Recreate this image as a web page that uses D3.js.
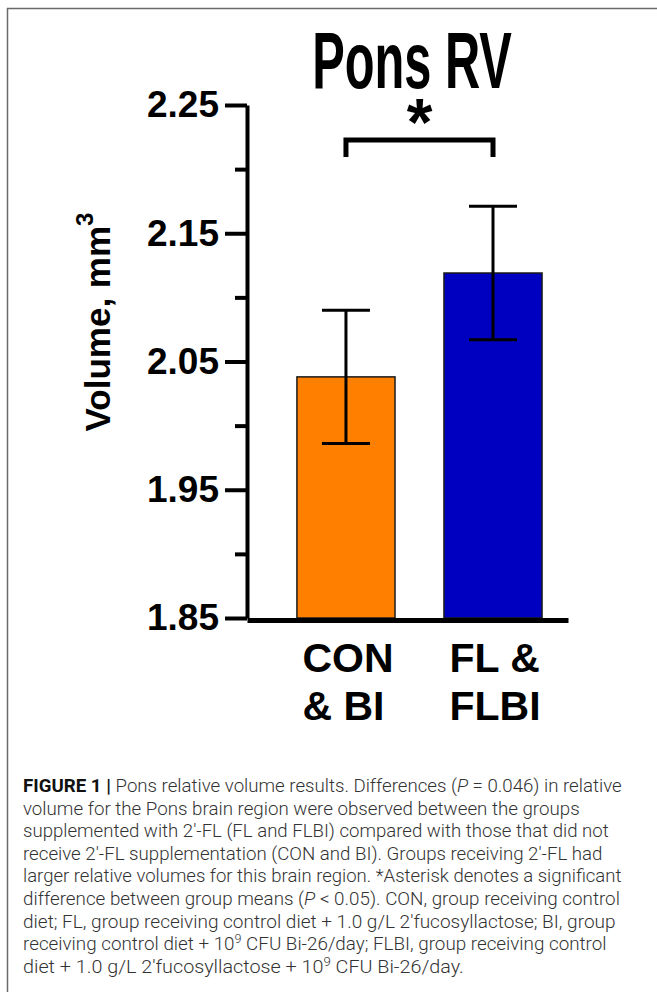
<!DOCTYPE html>
<html>
<head>
<meta charset="utf-8">
<script src="https://cdn.jsdelivr.net/npm/d3@7"></script>
<style>
  body { margin: 0; background: #fff; }
</style>
</head>
<body>
<div id="chart"></div>
<script>
// data
const categories = ["CON & BI", "FL & FLBI"]
const tickLines = [["CON", "& BI"], ["FL &", "FLBI"]]
const means = [2.038, 2.119]
const errors = [0.052, 0.052]
const barColors = ["#FF8000", "#0000C0"]
const majorTicks = [1.85, 1.95, 2.05, 2.15, 2.25]
const minorTicks = [1.90, 2.00, 2.10, 2.20]

// caption, one entry per printed line: [text, style]
const captionLines = [
    [["FIGURE 1 | ", "b"], ["Pons relative volume results. Differences (", ""], ["P", "i"], [" = 0.046) in relative", ""]],
    [["volume for the Pons brain region were observed between the groups", ""]],
    [["supplemented with 2\u2032-FL (FL and FLBI) compared with those that did not", ""]],
    [["receive 2\u2032-FL supplementation (CON and BI). Groups receiving 2\u2032-FL had", ""]],
    [["larger relative volumes for this brain region. *Asterisk denotes a significant", ""]],
    [["difference between group means (", ""], ["P", "i"], [" < 0.05). CON, group receiving control", ""]],
    [["diet; FL, group receiving control diet + 1.0 g/L 2\u2032fucosyllactose; BI, group", ""]],
    [["receiving control diet + 10", ""], ["9", "sup"], [" CFU Bi-26/day; FLBI, group receiving control", ""]],
    [["diet + 1.0 g/L 2\u2032fucosyllactose + 10", ""], ["9", "sup"], [" CFU Bi-26/day.", ""]]
]
const captionWidths = [599, 557, 586, 580, 599, 597, 593, 584, 441]

const W = 657, H = 992
const font = "'Liberation Sans', Arial, Helvetica, sans-serif"

const svg = d3.select("#chart")
    .append("svg")
    .attr("width", W)
    .attr("height", H)

// frame, only top and left edges show
svg.append("path")
    .attr("d", "M7.5," + H + " V8.5 H" + W)
    .attr("fill", "none")
    .attr("stroke", "#6a6a6a")
    .attr("stroke-width", 1.5)

// scales
let y = d3.scaleLinear()
    .domain([1.85, 2.25])
    .range([618, 105])

let x = d3.scaleBand()
    .domain(categories)
    .range([247, 568])
    .paddingInner(0.333)
    .paddingOuter(0.258)
    .align(0.658)

// title (condensed bold face in the original)
svg.append("text")
    .attr("transform", "translate(412,88) scale(0.61,1)")
    .attr("text-anchor", "middle")
    .attr("font-family", font)
    .attr("font-weight", "700")
    .attr("font-size", 80)
    .text("Pons RV")

// Y axis
let yAxis = d3.axisLeft(y)
    .tickValues(majorTicks)
    .tickSize(22)
    .tickSizeOuter(0)
    .tickPadding(6)
    .tickFormat(d3.format(".2f"))

const gy = svg.append("g")
    .attr("transform", "translate(" + x.range()[0] + ",0)")
    .call(yAxis)

const gyMinor = svg.append("g")
    .attr("transform", "translate(" + x.range()[0] + ",0)")
    .call(d3.axisLeft(y).tickValues(minorTicks).tickSize(12).tickSizeOuter(0).tickFormat(""))
gyMinor.select(".domain").remove()

svg.selectAll(".tick line")
    .attr("stroke", "#000")
    .attr("stroke-width", 4)
gy.select(".domain")
    .attr("stroke", "#000")
    .attr("stroke-width", 4)
gy.selectAll(".tick text")
    .attr("font-family", font)
    .attr("font-weight", "700")
    .attr("font-size", 37)
    .attr("fill", "#000")

// bars
svg.append("g")
    .selectAll("rect")
    .data(categories)
    .enter()
    .append("rect")
    .attr("x", d => x(d))
    .attr("width", x.bandwidth())
    .attr("y", (d, i) => y(means[i]))
    .attr("height", (d, i) => y(1.85) - y(means[i]))
    .attr("fill", (d, i) => barColors[i])
    .attr("stroke", "#1a1a1a")
    .attr("stroke-width", 1.5)

// error bars
const capW = 48
const eb = svg.append("g")
    .attr("stroke", "#000")
    .attr("stroke-width", 3)
    .attr("fill", "none")
categories.forEach((c, i) => {
    const cx = x(c) + x.bandwidth() / 2
    const hi = y(means[i] + errors[i])
    const lo = y(means[i] - errors[i])
    eb.append("path")
        .attr("d", "M" + cx + "," + hi + " V" + lo +
            " M" + (cx - capW / 2) + "," + hi + " H" + (cx + capW / 2) +
            " M" + (cx - capW / 2) + "," + lo + " H" + (cx + capW / 2))
})

// X axis
let xAxis = d3.axisBottom(x).tickSize(0).tickSizeOuter(0).tickFormat("")
const gx = svg.append("g")
    .attr("transform", "translate(0," + (y(1.85) + 2) + ")")
    .call(xAxis)
gx.select(".domain")
    .attr("stroke", "#000")
    .attr("stroke-width", 5)

// two-line category labels, left aligned under each bar
categories.forEach((c, i) => {
    const cx = x(c) + x.bandwidth() / 2
    const t = svg.append("text")
        .attr("font-family", font)
        .attr("font-weight", "700")
        .attr("font-size", 41)
        .attr("fill", "#000")
    tickLines[i].forEach((line, k) => {
        t.append("tspan")
            .attr("y", 672 + k * 48)
            .text(line)
    })
    const wMax = d3.max(t.selectAll("tspan").nodes(), n => n.getComputedTextLength())
    t.selectAll("tspan").attr("x", cx - wMax / 2 + 2)
})

// significance bracket
const xa = x(categories[0]) + x.bandwidth() / 2
const xb = x(categories[1]) + x.bandwidth() / 2
svg.append("path")
    .attr("d", "M" + xa + ",157 V140 H" + xb + " V157")
    .attr("fill", "none")
    .attr("stroke", "#000")
    .attr("stroke-width", 5)

const star = svg.append("text")
    .attr("font-family", font)
    .attr("font-weight", "700")
    .attr("font-size", 66)
    .attr("text-anchor", "middle")
    .attr("x", (xa + xb) / 2)
    .attr("y", 140)
    .text("*")
const sb = star.node().getBBox()
// glyph box is tall; centre the ink roughly on y = 107
star.attr("y", 140 + (107 - (sb.y + sb.height * 0.3)))

// y label
const yl = svg.append("text")
    .attr("transform", "translate(110,322) rotate(-90)")
    .attr("text-anchor", "middle")
    .attr("font-family", font)
    .attr("font-weight", "700")
    .attr("font-size", 35)
yl.append("tspan").text("Volume, mm")
yl.append("tspan").attr("font-size", 24).attr("dy", -17).text("3")

// caption
const capG = svg.append("g")
captionLines.forEach((segs, i) => {
    const base = 792 + i * 22.6
    const t = capG.append("text")
        .attr("font-family", "Roboto, 'Liberation Sans', sans-serif")
        .attr("font-weight", "300")
        .attr("font-size", 18)
        .attr("fill", "#333")
    segs.forEach(([txt, st]) => {
        const s = t.append("tspan").text(txt)
        if (st === "b") s.attr("font-weight", "700").attr("fill", "#111")
        if (st === "i") s.attr("font-style", "italic")
        if (st === "sup") s.attr("font-size", 12).attr("dy", -7)
        if (st !== "sup" && t.selectAll("tspan").size() > 1) {
            const prev = t.selectAll("tspan").nodes()
            const p = prev[prev.length - 2]
            if (p.getAttribute("dy") === "-7") s.attr("dy", 7)
        }
    })
    const len = t.node().getComputedTextLength()
    t.attr("transform", "translate(23," + base + ") scale(" + (captionWidths[i] / len) + ",1)")
})
</script>
</body>
</html>
